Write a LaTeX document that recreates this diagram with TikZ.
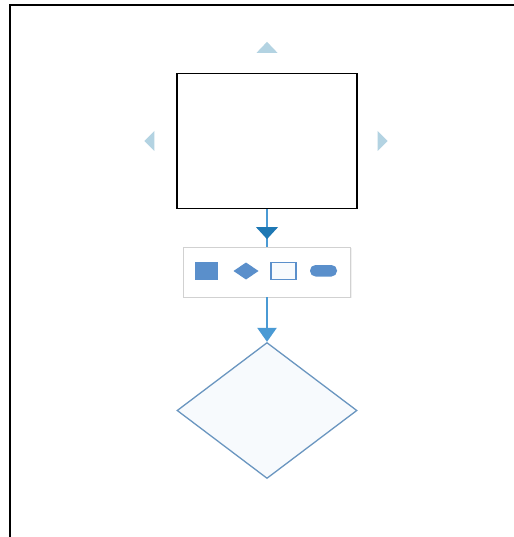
\documentclass[tikz,border=0pt]{standalone}
\usetikzlibrary{shapes.geometric,arrows.meta,shadows}
\definecolor{paleblue}{HTML}{B3D3E2}
\definecolor{linkblue}{HTML}{4A9AD4}
\definecolor{darkhead}{HTML}{1E78B4}
\definecolor{iconblue}{HTML}{5A8FCB}
\definecolor{diastroke}{HTML}{6A96C0}
\definecolor{diafill}{HTML}{F7FAFD}
\begin{document}
\begin{tikzpicture}[x=1pt,y=-1pt,
  boxstyle/.style={draw=black,line width=1.3pt,fill=white,minimum width=180pt,minimum height=135pt,inner sep=0pt},
  toolstyle/.style={draw=black!18,line width=0.8pt,fill=white,minimum width=167pt,minimum height=50pt,inner sep=0pt,
    drop shadow={shadow xshift=1pt,shadow yshift=-1pt,fill=black!10,opacity=0.5}},
  diastyle/.style={diamond,draw=diastroke,line width=1.3pt,fill=diafill,minimum width=180pt,minimum height=136pt,inner sep=0pt},
  conn/.style={draw=linkblue,line width=2.4pt},
  hint/.style={fill=paleblue},
  icon/.style={fill=iconblue}]
\useasboundingbox (0,0) rectangle (513,537);
\fill[white] (0,0) rectangle (513,537);
\draw[line width=2pt,line cap=rect] (10,537) -- (10,5) -- (513,5);

\node[boxstyle] (box) at (267,141) {};
\node[toolstyle] (tool) at (267,272) {};
\node[diastyle] (dia) at (267,410.5) {};

% hint arrows around the box
\coordinate (up) at ([yshift=26pt]box.north);
\fill[hint] ([shift={(-10.5,6)}]up) -- ([shift={(0,-5)}]up) -- ([shift={(10.5,6)}]up) -- cycle;
\coordinate (lf) at ([xshift=-27pt]box.west);
\fill[hint] ([shift={(5,-10)}]lf) -- ([shift={(-5,0)}]lf) -- ([shift={(5,10)}]lf) -- cycle;
\coordinate (rt) at ([xshift=25pt]box.east);
\fill[hint] ([shift={(-5,-10)}]rt) -- ([shift={(5,0)}]rt) -- ([shift={(-5,10)}]rt) -- cycle;

% connectors
\draw[conn] (box.south) -- (tool.north);
\coordinate (mh) at ([yshift=-30pt]box.south);
\fill[darkhead] ([shift={(-11,-12)}]mh) -- (mh) -- ([shift={(11,-12)}]mh) -- cycle;
\draw[conn,-{Triangle[width=19pt,length=14pt]}] (tool.south) -- (dia.north);

% toolbar icons
\fill[icon] (195,262) rectangle (218,280);
\fill[icon] (233.5,271) -- (246,262.5) -- (258.5,271) -- (246,279.5) -- cycle;
\draw[iconblue,line width=1.6pt,fill=diafill] (271,262.5) rectangle (296,279.5);
\fill[icon,rounded corners=5.5pt] (310,265) rectangle (337,276.5);
\end{tikzpicture}
\end{document}
